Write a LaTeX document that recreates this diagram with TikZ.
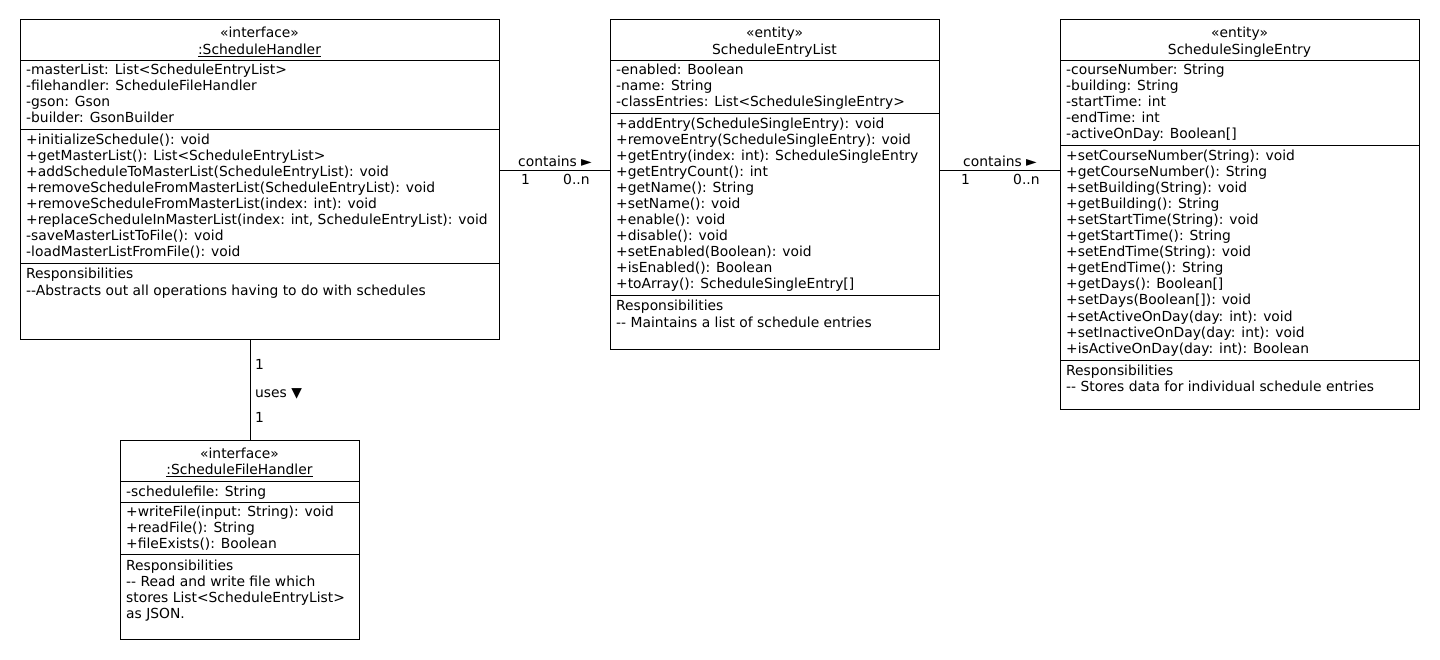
\documentclass[tikz,border=0pt]{standalone}
\usepackage{fontspec}
\setmainfont{DejaVu Sans}[Ligatures=TeXOff]
\usetikzlibrary{calc}
\tikzset{
  box/.style={draw, line width=1pt, anchor=north west, inner sep=0pt, outer sep=0pt},
  txt/.style={anchor=base west, inner sep=0pt, font=\fontsize{13.85}{16}\selectfont},
  ttl/.style={anchor=base, inner sep=0pt, font=\fontsize{13.85}{16}\selectfont},
  sep/.style={line width=1pt},
  conn/.style={line width=1pt},
}
% #1 prefix, #2 x, #3 first baseline, #4 list
\newcommand\umlrows[4]{%
  \foreach \t [count=\i] in {#4}{%
    \node[txt] (#1\i) at (#2, {#3+16*(\i-1)}) {\t};
  }%
}
\begin{document}
\begin{tikzpicture}[x=1pt,y=-1pt]
\useasboundingbox (0,0) rectangle (1440,660);
\fill[white] (0,0) rectangle (1440,660);

% ScheduleHandler
\node[box, minimum width=479pt, minimum height=319pt] (sh) at (20,20) {};
\draw[sep] (20,60.5) -- (499,60.5);
\draw[sep] (20,129.5) -- (499,129.5);
\draw[sep] (20,263.5) -- (499,263.5);
\node[ttl] (shs) at (259.5,38) {«interface»};
\node[ttl] (shn) at (259.5,54.5) {\underline{:ScheduleHandler}};
\umlrows{sha}{26}{75}{-masterList: List<ScheduleEntryList>, -filehandler: ScheduleFileHandler, -gson: Gson, -builder: GsonBuilder}
\umlrows{shm}{26}{145}{+initializeSchedule(): void, +getMasterList(): List<ScheduleEntryList>, +addScheduleToMasterList(ScheduleEntryList): void, +removeScheduleFromMasterList(ScheduleEntryList): void, +removeScheduleFromMasterList(index: int): void, {+replaceScheduleInMasterList(index: int, ScheduleEntryList): void}, -saveMasterListToFile(): void, -loadMasterListFromFile(): void}
\umlrows{shr}{26}{279}{Responsibilities, -{}-Abstracts out all operations having to do with schedules}

% ScheduleEntryList
\node[box, minimum width=329pt, minimum height=329pt] (sel) at (610,20) {};
\draw[sep] (610,60.5) -- (939,60.5);
\draw[sep] (610,113.5) -- (939,113.5);
\draw[sep] (610,295.5) -- (939,295.5);
\node[ttl] (sels) at (774.5,38) {«entity»};
\node[ttl] (seln) at (774.5,54.5) {ScheduleEntryList};
\umlrows{sela}{616}{75}{-enabled: Boolean, -name: String, -classEntries: List<ScheduleSingleEntry>}
\umlrows{selm}{616}{129}{+addEntry(ScheduleSingleEntry): void, +removeEntry(ScheduleSingleEntry): void, +getEntry(index: int): ScheduleSingleEntry, +getEntryCount(): int, +getName(): String, +setName(): void, +enable(): void, +disable(): void, +setEnabled(Boolean): void, +isEnabled(): Boolean, +toArray(): ScheduleSingleEntry[]}
\umlrows{selr}{616}{311}{Responsibilities, -{}- Maintains a list of schedule entries}

% ScheduleSingleEntry
\node[box, minimum width=359pt, minimum height=389pt] (sse) at (1060,20) {};
\draw[sep] (1060,60.5) -- (1419,60.5);
\draw[sep] (1060,145.5) -- (1419,145.5);
\draw[sep] (1060,360.5) -- (1419,360.5);
\node[ttl] (sses) at (1239.5,38) {«entity»};
\node[ttl] (ssen) at (1239.5,54.5) {ScheduleSingleEntry};
\umlrows{ssea}{1066}{75}{-courseNumber: String, -building: String, -startTime: int, -endTime: int, -activeOnDay: Boolean[]}
\umlrows{ssem}{1066}{161}{+setCourseNumber(String): void, +getCourseNumber(): String, +setBuilding(String): void, +getBuilding(): String, +setStartTime(String): void, +getStartTime(): String, +setEndTime(String): void, +getEndTime(): String, +getDays(): Boolean[], +setDays(Boolean[]): void, +setActiveOnDay(day: int): void, +setInactiveOnDay(day: int): void, +isActiveOnDay(day: int): Boolean}
\umlrows{sser}{1066}{375}{Responsibilities, -{}- Stores data for individual schedule entries}

% ScheduleFileHandler
\node[box, minimum width=239pt, minimum height=199pt] (sfh) at (120,440) {};
\draw[sep] (120,481.5) -- (359,481.5);
\draw[sep] (120,502.5) -- (359,502.5);
\draw[sep] (120,554.5) -- (359,554.5);
\node[ttl] (sfhs) at (239.5,458) {«interface»};
\node[ttl] (sfhn) at (239.5,474.5) {\underline{:ScheduleFileHandler}};
\umlrows{sfha}{126}{496}{-schedulefile: String}
\umlrows{sfhm}{126}{516}{+writeFile(input: String): void, +readFile(): String, +fileExists(): Boolean}
\umlrows{sfhr}{126}{570}{Responsibilities, -{}- Read and write file which, stores List<ScheduleEntryList>, as JSON.}

% connectors
\draw[conn] ($(sh.north east)+(0,150.5)$) -- ($(sel.north west)+(0,150.5)$);
\node[txt] (c1l) at (518,167) {contains ►};
\node[txt] (c1a) at (521,185) {1};
\node[txt] (c1b) at (563,185) {0..n};

\draw[conn] ($(sel.north east)+(0,150.5)$) -- ($(sse.north west)+(0,150.5)$);
\node[txt] (c2l) at (963,167) {contains ►};
\node[txt] (c2a) at (961,185) {1};
\node[txt] (c2b) at (1013,185) {0..n};

\draw[conn] (sh.south -| 250.5,0) -- (sfh.north -| 250.5,0);
\node[txt] (c3a) at (255,369) {1};
\node[txt] (c3l) at (255,397) {uses ▼};
\node[txt] (c3b) at (255,422) {1};
\end{tikzpicture}
\end{document}
